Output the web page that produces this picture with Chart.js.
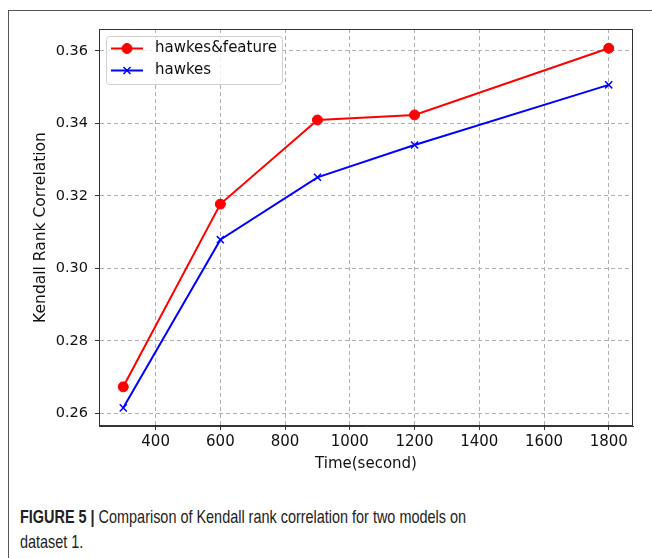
<!DOCTYPE html>
<html>
<head>
<meta charset="utf-8">
<script src="https://cdn.jsdelivr.net/npm/chart.js@4.4.0/dist/chart.umd.min.js"></script>
<style>
  html, body { margin: 0; padding: 0; background: #fff; }
  body { width: 652px; height: 558px; position: relative; overflow: hidden; }
  #frame { position: absolute; left: 8px; top: 10px; right: 0; bottom: 0;
           border-top: 1px solid #555; border-left: 1px solid #555; }
  #myChart { position: absolute; left: 0; top: 0; }
  #caption { position: absolute; left: 20px; top: 504px; width: 600px;
             font-family: "Liberation Sans", Arial, sans-serif;
             font-size: 18.5px; line-height: 25px; color: #222;
             transform: scaleX(0.78); transform-origin: 0 0; white-space: nowrap; }
  #caption b { font-weight: bold; }
</style>
</head>
<body>
<div id="frame"></div>
<canvas id="myChart" width="652" height="490"></canvas>
<div id="caption"><b>FIGURE 5 |</b> Comparison of Kendall rank correlation for two models on<br>dataset 1.</div>
<script>
// data
const times = [300, 600, 900, 1200, 1800];
const hawkesFeature = [0.2673, 0.3177, 0.3409, 0.3423, 0.3607];
const hawkes = [0.2615, 0.3079, 0.3251, 0.3340, 0.3506];
const seriesNames = ['hawkes&feature', 'hawkes'];
const xTicks = [400, 600, 800, 1000, 1200, 1400, 1600, 1800];
const yTicks = [0.26, 0.28, 0.30, 0.32, 0.34, 0.36];

Chart.defaults.font.family = 'DejaVu Sans';
Chart.defaults.color = '#111';

// matplotlib style box round the plot + legend inside it
const plotFrame = {
  id: 'plotFrame',
  afterDatasetsDraw(chart) {
    const ctx = chart.ctx;
    const a = chart.chartArea;
    ctx.save();
    ctx.strokeStyle = '#333';
    ctx.lineWidth = 1;
    ctx.strokeRect(a.left + 0.5, a.top + 0.5, a.width - 1, a.height - 1);

    // legend box
    const bx = a.left + 7, by = a.top + 7, bw = 176, bh = 48;
    ctx.fillStyle = 'rgba(255,255,255,0.8)';
    ctx.strokeStyle = '#d0d0d0';
    ctx.beginPath();
    ctx.roundRect(bx + 0.5, by + 0.5, bw, bh, 3);
    ctx.fill();
    ctx.stroke();

    chart.data.datasets.forEach((ds, i) => {
      const y = by + 12.5 + i * 22;
      ctx.strokeStyle = ds.borderColor;
      ctx.fillStyle = ds.backgroundColor;
      ctx.lineWidth = 2;
      ctx.beginPath();
      ctx.moveTo(bx + 5, y);
      ctx.lineTo(bx + 37, y);
      ctx.stroke();
      ctx.lineWidth = ds.pointBorderWidth;
      Chart.helpers.drawPoint(ctx, {
        pointStyle: ds.pointStyle, radius: ds.pointRadius, rotation: 0,
        borderWidth: ds.pointBorderWidth
      }, bx + 21, y);
      ctx.fillStyle = '#111';
      ctx.font = '15px "DejaVu Sans"';
      ctx.textBaseline = 'middle';
      ctx.textAlign = 'left';
      ctx.fillText(ds.label, bx + 49, y);
    });
    ctx.restore();
  }
};

var ctx = document.getElementById('myChart').getContext('2d');

window.myChart = new Chart(ctx, {
  type: 'line',
  data: {
    datasets: [
      {
        label: seriesNames[0],
        data: times.map((t, i) => ({ x: t, y: hawkesFeature[i] })),
        borderColor: '#ff0000',
        backgroundColor: '#ff0000',
        borderWidth: 2,
        pointStyle: 'circle',
        pointRadius: 5,
        pointBorderWidth: 1,
        pointBackgroundColor: '#ff0000',
        tension: 0
      },
      {
        label: seriesNames[1],
        data: times.map((t, i) => ({ x: t, y: hawkes[i] })),
        borderColor: '#0000ff',
        backgroundColor: '#0000ff',
        borderWidth: 2,
        pointStyle: 'crossRot',
        pointRadius: 5,
        pointBorderWidth: 1.5,
        tension: 0
      }
    ]
  },
  options: {
    responsive: false,
    animation: false,
    layout: { padding: { top: 29, right: 19, left: 0, bottom: 0 } },
    scales: {
      x: {
        type: 'linear',
        min: 225,
        max: 1875,
        afterBuildTicks: s => { s.ticks = xTicks.map(v => ({ value: v })); },
        afterFit: s => { s.height = 64; },
        ticks: { font: { size: 15 }, padding: 3, maxRotation: 0, callback: v => String(v) },
        grid: { color: '#b0b0b0', lineWidth: 1, tickLength: 4, tickColor: '#333' },
        border: { color: '#333', dash: [4, 3] },
        title: { display: true, text: 'Time(second)', font: { size: 15 }, padding: { top: 0, bottom: 17 } }
      },
      y: {
        min: 0.2565,
        max: 0.366,
        afterBuildTicks: s => { s.ticks = yTicks.map(v => ({ value: v })); },
        afterFit: s => { s.width = 99; },
        ticks: { font: { size: 14.5 }, padding: 7, callback: v => v.toFixed(2) },
        grid: { color: '#b0b0b0', lineWidth: 1, tickLength: 4, tickColor: '#333' },
        border: { color: '#333', dash: [4, 3] },
        title: { display: true, text: 'Kendall Rank Correlation', font: { size: 15.5 }, padding: { top: 32, bottom: 0 } }
      }
    },
    plugins: {
      legend: { display: false },
      tooltip: { enabled: false }
    }
  },
  plugins: [plotFrame]
});
</script>
</body>
</html>
